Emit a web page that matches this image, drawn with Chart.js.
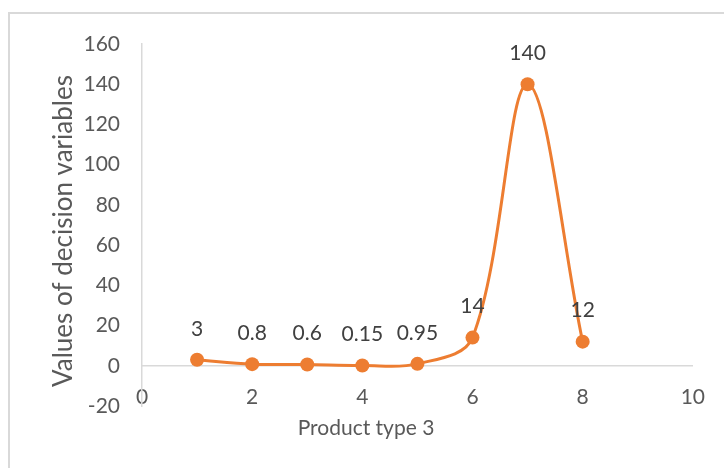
<!DOCTYPE html>
<html>
<head>
<meta charset="utf-8">
<script src="https://cdn.jsdelivr.net/npm/chart.js@4.4.1/dist/chart.umd.min.js"></script>
<style>
  html, body { margin: 0; padding: 0; background: #ffffff; overflow: hidden; }
  #wrap { position: relative; width: 724px; height: 468px; }
  #frame { position: absolute; left: 8px; top: 12px; width: 800px; height: 600px; border: 2px solid #d9d9d9; box-sizing: border-box; }
  canvas { position: absolute; left: 0; top: 0; }
</style>
</head>
<body>
<div id="wrap">
  <div id="frame"></div>
  <canvas id="c" width="724" height="468"></canvas>
</div>
<script>
const xValues = [1, 2, 3, 4, 5, 6, 7, 8];
const yValues = [3, 0.8, 0.6, 0.15, 0.95, 14, 140, 12];
const xTitle = 'Product type 3';
const yTitle = 'Values of decision variables';
const xMin = 0, xMax = 10, xStep = 2;
const yMin = -20, yMax = 160, yStep = 20;

const FONT = 'Lato';
const ORANGE = '#ED7D31';

const points = xValues.map((x, i) => ({ x: x, y: yValues[i] }));

const labelPlugin = {
  id: 'pointLabels',
  afterDatasetsDraw(chart) {
    const ctx = chart.ctx;
    const meta = chart.getDatasetMeta(0);
    ctx.save();
    ctx.font = '21px ' + FONT;
    ctx.fillStyle = '#404040';
    ctx.textAlign = 'center';
    ctx.textBaseline = 'middle';
    meta.data.forEach((pt, i) => {
      ctx.fillText(String(yValues[i]), pt.x, pt.y - 31);
    });
    ctx.restore();
  }
};

const titlePlugin = {
  id: 'axisTitles',
  afterDraw(chart) {
    const ctx = chart.ctx;
    ctx.save();
    ctx.fillStyle = '#595959';
    ctx.textAlign = 'center';
    ctx.textBaseline = 'middle';
    ctx.font = '21px ' + FONT;
    ctx.fillText(xTitle, 366, 428);
    ctx.translate(64, 231);
    ctx.rotate(-Math.PI / 2);
    ctx.font = '26px ' + FONT;
    ctx.fillText(yTitle, 0, 0);
    ctx.restore();
  }
};

new Chart(document.getElementById('c'), {
  type: 'scatter',
  data: {
    datasets: [{
      data: points,
      showLine: true,
      borderColor: ORANGE,
      backgroundColor: ORANGE,
      borderWidth: 3,
      pointRadius: 7,
      pointHoverRadius: 7,
      pointBorderWidth: 0,
      tension: 0.35,
      cubicInterpolationMode: 'default'
    }]
  },
  options: {
    responsive: false,
    animation: false,
    events: [],
    layout: { padding: { left: 0, right: 30, top: 44, bottom: 62 } },
    plugins: { legend: { display: false }, tooltip: { enabled: false } },
    scales: {
      x: {
        type: 'linear',
        position: { y: 0 },
        min: xMin, max: xMax,
        grid: { display: false, drawTicks: false },
        border: { display: true, color: '#d9d9d9', width: 1.5 },
        ticks: { stepSize: xStep, padding: 19, color: '#595959', font: { family: FONT, size: 21 } },
        title: { display: false }
      },
      y: {
        type: 'linear',
        position: 'left',
        min: yMin, max: yMax,
        grid: { display: false, drawTicks: false },
        border: { display: true, color: '#d9d9d9', width: 1.5 },
        ticks: { stepSize: yStep, padding: 22, color: '#595959', font: { family: FONT, size: 21 } },
        title: { display: false },
        afterFit(scale) { scale.width = 142; }
      }
    }
  },
  plugins: [labelPlugin, titlePlugin]
});
</script>
</body>
</html>
